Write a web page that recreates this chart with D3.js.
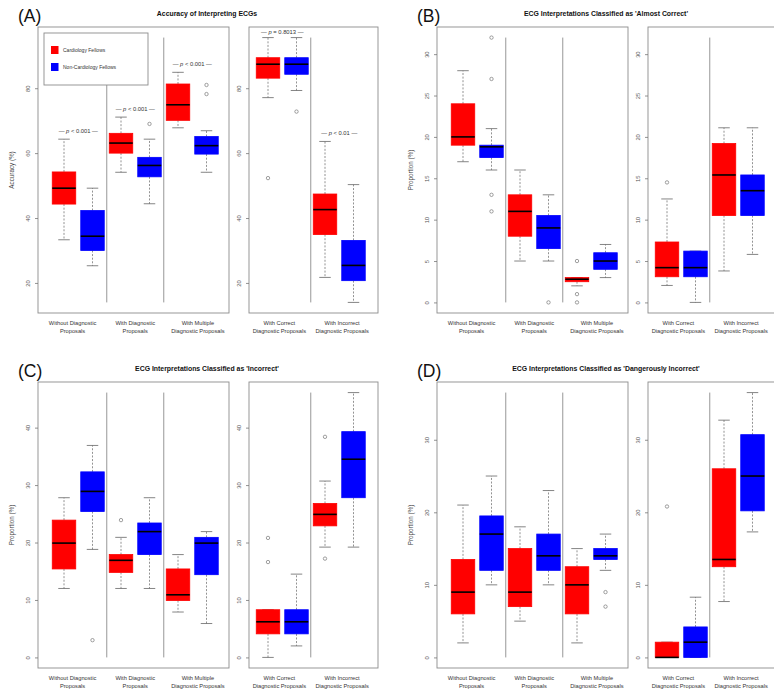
<!DOCTYPE html>
<html>
<head>
<meta charset="utf-8">
<script src="https://cdn.jsdelivr.net/npm/d3@7/dist/d3.min.js"></script>
<style>
  html, body { margin: 0; padding: 0; background: #fff; }
  svg { display: block; font-family: "Liberation Sans", Arial, sans-serif; }
</style>
</head>
<body>
<svg id="chart" width="774" height="693"></svg>
<script>
// ---------------- DATA ----------------
const seriesNames = ["Cardiology Fellows", "Non-Cardiology Fellows"];
const leftCategories = [["Without Diagnostic", "Proposals"], ["With Diagnostic", "Proposals"], ["With Multiple", "Diagnostic Proposals"]];
const rightCategories = [["With Correct", "Diagnostic Proposals"], ["With Incorrect", "Diagnostic Proposals"]];
const panelLetters = ["(A)", "(B)", "(C)", "(D)"];
const panelTitles = ["Accuracy of Interpreting ECGs",
  "ECG Interpretations Classified as 'Almost Correct'",
  "ECG Interpretations Classified as 'Incorrect'",
  "ECG Interpretations Classified as 'Dangerously Incorrect'"];
const yLabels = ["Accuracy (%)", "Proportion (%)", "Proportion (%)", "Proportion (%)"];

// box stats: [lower whisker, Q1, median, Q3, upper whisker]; order: cardio, non-cardio per category
const accuracyLeft = [[33.3, 44.3, 49.2, 54.2, 64.3], [25.3, 30, 34.4, 42.3, 49.2],
  [54.1, 60, 63.1, 66.1, 71.1], [44.4, 52.7, 56.2, 58.7, 64.3],
  [67.8, 70.1, 74.9, 81.3, 84.9], [54.1, 59.7, 62.3, 65.1, 66.9]];
const accuracyLeftOutliers = [[], [], [], [69], [], [78.2, 81]];
const accuracyRight = [[77.1, 83.1, 87.4, 89.4, 95.6], [79.3, 84.3, 87.4, 89.4, 95.6],
  [21.7, 34.9, 42.6, 47.4, 63.6], [14, 20.7, 25.4, 33.1, 50.3]];
const accuracyRightOutliers = [[52.3], [72.8], [], []];
const accuracyLeftP = ["p < 0.001", "p < 0.001", "p < 0.001"];
const accuracyRightP = ["p = 0.8013", "p < 0.01"];
const accuracyTicks = [20, 40, 60, 80];

const almostLeft = [[17, 19, 20, 24, 28], [16, 17.5, 18.8, 19, 21],
  [5, 8, 11, 13, 16], [5, 6.5, 9, 10.5, 13],
  [2, 2.5, 2.8, 3, 3], [3, 4, 5, 6, 7]];
const almostLeftOutliers = [[], [32, 27, 13, 11], [], [0], [5, 1, 0], []];
const almostRight = [[2.05, 3.1, 4.2, 7.3, 12.5], [0, 3.1, 4.2, 6.2, 6.2],
  [3.8, 10.5, 15.4, 19.2, 21.1], [5.8, 10.5, 13.5, 15.4, 21.1]];
const almostRightOutliers = [[14.5], [], [], []];
const almostTicks = [0, 5, 10, 15, 20, 25, 30];

const incorrectLeft = [[12, 15.4, 19.9, 23.9, 27.8], [18.8, 25.4, 28.9, 32.3, 36.9],
  [12, 14.8, 16.9, 17.9, 20.9], [12, 17.9, 21.9, 23.4, 27.8],
  [7.9, 9.9, 10.9, 15.4, 17.9], [5.9, 14.4, 19.9, 20.9, 21.9]];
const incorrectLeftOutliers = [[], [3], [23.9], [], [], []];
const incorrectRight = [[0, 4.1, 6.2, 8.3, 8.3], [2, 4.1, 6.2, 8.3, 14.5],
  [19.2, 22.9, 24.9, 26.8, 30.7], [19.2, 27.8, 34.5, 39.3, 46.1]];
const incorrectRightOutliers = [[16.6, 20.8], [], [38.4, 17.2], []];
const incorrectTicks = [0, 10, 20, 30, 40];

const dangerLeft = [[2, 6, 9, 13.5, 21], [10, 12, 17, 19.5, 25],
  [5, 7, 9, 15, 18], [10, 12, 14, 17, 23],
  [2, 6, 10, 12.5, 15], [12, 13.5, 14, 15, 17]];
const dangerLeftOutliers = [[], [], [], [], [], [9, 7]];
const dangerRight = [[0, 0, 0, 2.1, 2.1], [0, 0, 2.1, 4.2, 8.3],
  [7.7, 12.5, 13.5, 26, 32.7], [17.3, 20.2, 25, 30.7, 36.5]];
const dangerRightOutliers = [[20.8], [], [], []];
const dangerTicks = [0, 10, 20, 30];

// ---------------- LAYOUT ----------------
const COLORS = ["#ff0000", "#0000ff"];
const panels = [
  { left: accuracyLeft, leftOut: accuracyLeftOutliers, right: accuracyRight, rightOut: accuracyRightOutliers, ticks: accuracyTicks, pLeft: accuracyLeftP, pRight: accuracyRightP, legend: true, ox: 0, oy: 0 },
  { left: almostLeft, leftOut: almostLeftOutliers, right: almostRight, rightOut: almostRightOutliers, ticks: almostTicks, ox: 399, oy: 0 },
  { left: incorrectLeft, leftOut: incorrectLeftOutliers, right: incorrectRight, rightOut: incorrectRightOutliers, ticks: incorrectTicks, ox: 0, oy: 355 },
  { left: dangerLeft, leftOut: dangerLeftOutliers, right: dangerRight, rightOut: dangerRightOutliers, ticks: dangerTicks, ox: 399, oy: 355 }
];

const svg = d3.select("#chart");
const FT = 27, FB = 313;
const LF = [38, 229], RF = [249, 378];
const BW = 23.5, CAP = 11.5;

panels.forEach((p, i) => {
  const g = svg.append("g").attr("transform", `translate(${p.ox},${p.oy})`);
  const all = [].concat(...p.left, ...p.leftOut, ...p.right, ...p.rightOut);
  const mn = d3.min(all), mx = d3.max(all), span = mx - mn;
  const y = d3.scaleLinear().domain([mn - 0.04 * span, mx + 0.04 * span]).range([FB, FT]);

  // letter + title
  g.append("text").attr("x", 18).attr("y", 22).attr("font-size", 17.5).attr("fill", "#111").text(panelLetters[i]);
  g.append("text").attr("x", 207).attr("y", 15.5).attr("text-anchor", "middle")
    .attr("font-size", 6.9).attr("font-weight", "bold").attr("fill", "#111").text(panelTitles[i]);
  // y label
  g.append("text").attr("transform", `translate(14,170) rotate(-90)`).attr("text-anchor", "middle")
    .attr("font-size", 6.3).attr("fill", "#444").text(yLabels[i]);

  const subs = [
    { stats: p.left, outs: p.leftOut, frame: LF, x: d3.scaleLinear().domain([1, 6]).range([LF[0] + 26, LF[0] + 168.5]), cats: leftCategories, labelPos: [1.3, 3.5, 5.7], pv: p.pLeft },
    { stats: p.right, outs: p.rightOut, frame: RF, x: d3.scaleLinear().domain([1, 4]).range([RF[0] + 19, RF[0] + 104.5]), cats: rightCategories, labelPos: [1.4, 3.6], pv: p.pRight }
  ];

  subs.forEach(s => {
    const sg = g.append("g");
    // frame
    sg.append("rect").attr("x", s.frame[0]).attr("y", FT).attr("width", s.frame[1] - s.frame[0]).attr("height", FB - FT)
      .attr("fill", "none").attr("stroke", "#8c8c8c").attr("stroke-width", 0.9);
    // axis
    const ax = sg.append("g").attr("transform", `translate(${s.frame[0]},0)`)
      .call(d3.axisLeft(y).tickValues(p.ticks).tickSize(3).tickFormat(d3.format("d")));
    ax.select(".domain").remove();
    ax.selectAll("line").attr("stroke", "#777").attr("stroke-width", 0.8);
    ax.selectAll("text").attr("x", 0).attr("dy", 0).attr("transform", "translate(-8.5,0) rotate(-90)")
      .attr("text-anchor", "middle").attr("font-size", 5.8).attr("fill", "#555").attr("font-family", "Liberation Sans, Arial, sans-serif");

    // separators
    const nGroups = s.cats.length;
    for (let k = 1; k < nGroups; k++) {
      const xs = s.x(2 * k + 0.5);
      sg.append("line").attr("x1", xs).attr("x2", xs).attr("y1", y(mx)).attr("y2", y(mn))
        .attr("stroke", "#8c8c8c").attr("stroke-width", 0.9);
    }

    // boxes
    s.stats.forEach((st, j) => {
      const cx = s.x(j + 1), col = COLORS[j % 2];
      const bg = sg.append("g");
      // whiskers
      bg.append("line").attr("x1", cx).attr("x2", cx).attr("y1", y(st[3])).attr("y2", y(st[4]))
        .attr("stroke", "#777").attr("stroke-width", 0.8).attr("stroke-dasharray", "2,1.6");
      bg.append("line").attr("x1", cx).attr("x2", cx).attr("y1", y(st[1])).attr("y2", y(st[0]))
        .attr("stroke", "#777").attr("stroke-width", 0.8).attr("stroke-dasharray", "2,1.6");
      [st[0], st[4]].forEach(v => bg.append("line").attr("x1", cx - CAP / 2).attr("x2", cx + CAP / 2)
        .attr("y1", y(v)).attr("y2", y(v)).attr("stroke", "#666").attr("stroke-width", 0.8));
      // box
      bg.append("rect").attr("x", cx - BW / 2).attr("width", BW).attr("y", y(st[3]))
        .attr("height", Math.max(0.5, y(st[1]) - y(st[3]))).attr("fill", col).attr("stroke", col).attr("stroke-width", 0.8);
      // median
      bg.append("line").attr("x1", cx - BW / 2).attr("x2", cx + BW / 2).attr("y1", y(st[2])).attr("y2", y(st[2]))
        .attr("stroke", "#000").attr("stroke-width", 1.6);
      // outliers
      s.outs[j].forEach(o => bg.append("circle").attr("cx", cx).attr("cy", y(o)).attr("r", 1.7)
        .attr("fill", "none").attr("stroke", "#777").attr("stroke-width", 0.7));
    });

    // category labels
    s.cats.forEach((c, k) => {
      const t = sg.append("text").attr("text-anchor", "middle").attr("font-size", 5.7).attr("fill", "#333");
      c.forEach((line, li) => t.append("tspan").attr("x", s.x(s.labelPos[k])).attr("y", FB + 12 + li * 8).text(line));
    });

    // p values
    if (s.pv) {
      s.pv.forEach((pt, k) => {
        const top = Math.max(s.stats[2 * k][4], s.stats[2 * k + 1][4]);
        const cx = (s.x(2 * k + 1) + s.x(2 * k + 2)) / 2;
        const yy = Math.max(y(top) - 6.5, FT + 7);
        const t = sg.append("text").attr("x", cx).attr("y", yy).attr("text-anchor", "middle")
          .attr("font-size", 5.8).attr("fill", "#333");
        t.append("tspan").text("— ");
        t.append("tspan").attr("font-style", "italic").text(pt.slice(0, 1));
        t.append("tspan").text(pt.slice(1) + " —");
      });
    }
  });

  // legend
  if (p.legend) {
    const lg = g.append("g");
    lg.append("rect").attr("x", 44).attr("y", 33).attr("width", 104).attr("height", 52)
      .attr("fill", "#fff").attr("stroke", "#8c8c8c").attr("stroke-width", 0.9);
    seriesNames.forEach((n, k) => {
      lg.append("rect").attr("x", 51).attr("y", 46 + k * 17).attr("width", 7.5).attr("height", 8).attr("fill", COLORS[k]);
      lg.append("text").attr("x", 63).attr("y", 52 + k * 17).attr("font-size", 5).attr("fill", "#333").text(n);
    });
  }
});
</script>
</body>
</html>
